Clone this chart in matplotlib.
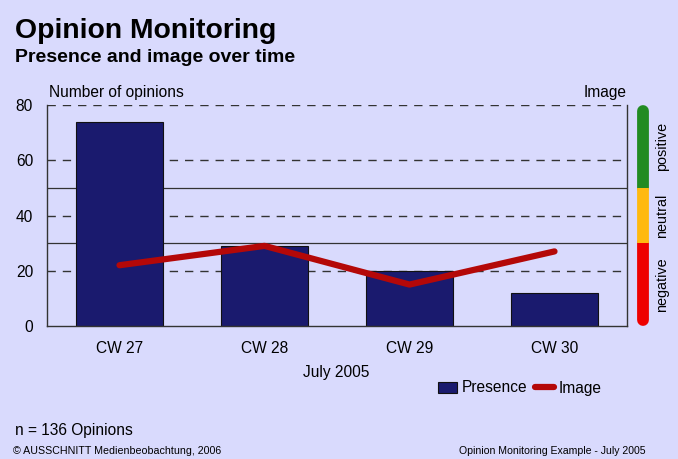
import matplotlib
matplotlib.use('Agg')
from matplotlib import pyplot as plt
from matplotlib.patches import Patch
from matplotlib.lines import Line2D

weeks = ['CW 27', 'CW 28', 'CW 29', 'CW 30']
presence = [74, 29, 20, 12]
image = [22, 29, 15, 27]
y_ticks = [0, 20, 40, 60, 80]
band_edges = [30, 50]  # negative / neutral / positive

bg = '#D9DAFD'
bar_color = '#1A1A6E'
line_color = '#B40808'
W, H = 678, 459

plt.rcParams['font.family'] = ['Liberation Sans', 'DejaVu Sans']

fig = plt.figure(figsize=(W / 100, H / 100), dpi=100, facecolor=bg)

def fx(px):
    return px / W

def fy(px):
    return 1 - px / H

# main plot area
ax = fig.add_axes([fx(47), fy(326), fx(627) - fx(47), fy(105) - fy(326)])
ax.set_facecolor(bg)
ax.set_xlim(-0.5, 3.5)
ax.set_ylim(0, 80)

for t in y_ticks[1:]:
    ax.axhline(t, color='#333333', lw=1.0, ls=(0, (6, 5)), zorder=1)
for b in band_edges:
    ax.axhline(b, color='#333333', lw=0.9, zorder=1)

x = range(len(weeks))
ax.bar(x, presence, width=0.6, color=bar_color, edgecolor='#111111', lw=0.8, zorder=2)
ax.plot(x, image, color=line_color, lw=4.5, solid_capstyle='round',
        solid_joinstyle='round', zorder=3)

ax.set_yticks(y_ticks)
ax.set_xticks(list(x))
ax.set_xticklabels(weeks)
ax.tick_params(length=0, labelsize=11.2, colors='black')
ax.tick_params(axis='y', pad=10)
ax.tick_params(axis='x', pad=11)
for side in ['left', 'right', 'bottom']:
    ax.spines[side].set_color('#333333')
    ax.spines[side].set_linewidth(1.0)
ax.spines['top'].set_visible(False)

# image scale bar
cax = fig.add_axes([fx(632), fy(326), fx(654) - fx(632), fy(105) - fy(326)])
cax.set_xlim(0, 1)
cax.set_ylim(0, 80)
cax.axis('off')
cax.plot([0.5, 0.5], [78, 50], color='#228B22', lw=8.5, solid_capstyle='round')
cax.plot([0.5, 0.5], [30, 2], color='#EE0000', lw=8.5, solid_capstyle='round')
cax.plot([0.5, 0.5], [50, 30], color='#FFB90F', lw=8.5, solid_capstyle='butt')

for label, mid in [('positive', 65), ('neutral', 40), ('negative', 15)]:
    fig.text(fx(662), fy(326 - mid * 221 / 80), label, rotation=90,
             ha='center', va='center', fontsize=10.4)

# texts
fig.text(fx(15), fy(31), 'Opinion Monitoring', fontsize=20.4, fontweight='bold', va='center')
fig.text(fx(15), fy(58), 'Presence and image over time', fontsize=14, fontweight='bold', va='center')
fig.text(fx(49), fy(92), 'Number of opinions', fontsize=11.2, va='center')
fig.text(fx(627), fy(92), 'Image', fontsize=11.2, va='center', ha='right')
fig.text(fx(336), fy(373), 'July 2005', fontsize=11.2, va='center', ha='center')
fig.text(fx(15), fy(430), 'n = 136 Opinions', fontsize=11.2, va='center')
fig.text(fx(13), fy(451), '\u00a9 AUSSCHNITT Medienbeobachtung, 2006', fontsize=7.7, va='center')
fig.text(fx(646), fy(451), 'Opinion Monitoring Example - July 2005', fontsize=7.6, va='center', ha='right')

handles = [Patch(facecolor=bar_color, edgecolor='#111111', lw=0.8),
           Line2D([], [], color=line_color, lw=4.5, solid_capstyle='round')]
fig.legend(handles, ['Presence', 'Image'], loc='center', bbox_to_anchor=(fx(520), fy(388)),
           ncol=2, frameon=False, fontsize=11.2, handlelength=1.2, handletextpad=0.3,
           columnspacing=0.5)

fig.savefig('out.png', dpi=100, facecolor=bg)
